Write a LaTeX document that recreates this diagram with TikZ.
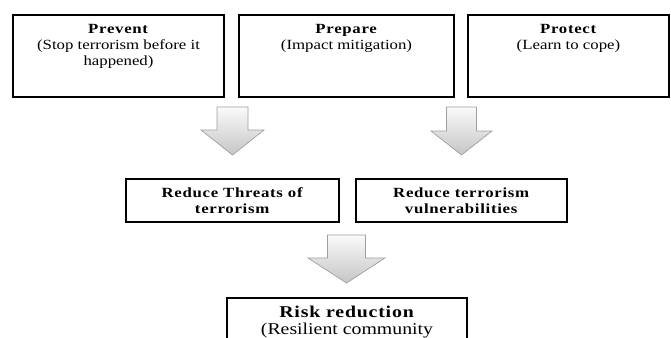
\documentclass[tikz,border=0pt]{standalone}
\usepackage{fontspec}
\setmainfont[FakeStretch=1.2,BoldFeatures={LetterSpace=5}]{Liberation Serif}
\usepackage{tikz}
\usetikzlibrary{calc,positioning}
\tikzset{
  caja/.style={draw=black,line width=2.4pt,inner sep=0pt},
  txt/.style={align=center,inner sep=0pt,font=\fontsize{14}{16}\selectfont},
  blockarr/.style={draw=gray!75,line width=0.7pt,top color=gray!4,bottom color=gray!45},
  pics/downarr/.style n args={4}{code={
    \draw[blockarr] (-#1,0) -- (#1,0) -- (#1,#3) -- (#2,#3) -- (0,#3+#4)
      -- (-#2,#3) -- (-#1,#3) -- cycle;
  }}
}
\begin{document}
\begin{tikzpicture}[x=1pt,y=-1pt]
\useasboundingbox (0,0) rectangle (671,337);
\clip (0,0) rectangle (671,337);
% top row
\node[caja,minimum width=211pt,minimum height=82pt] (prevent) at (118.5,56) {};
\node[caja,minimum width=215pt,minimum height=82pt] (prepare) at (346.5,56) {};
\node[caja,minimum width=201pt,minimum height=82pt] (protect) at (568.5,56) {};
\node[txt,anchor=north,below=10pt of prevent.north] (preventt) {\textbf{Prevent}\\(Stop terrorism before it\\happened)};
\node[txt,anchor=north,below=10pt of prepare.north] (preparet) {\textbf{Prepare}\\(Impact mitigation)};
\node[txt,anchor=north,below=10pt of protect.north] (protectt) {\textbf{Protect}\\(Learn to cope)};
% middle row
\node[caja,txt,line width=2.2pt,minimum width=213pt,minimum height=43pt] (threats) at (232.5,200.5)
  {\textbf{Reduce Threats of}\\\textbf{terrorism}};
\node[caja,txt,line width=2.2pt,minimum width=211pt,minimum height=43pt] (vulner) at (461.5,200.5)
  {\textbf{Reduce terrorism}\\\textbf{vulnerabilities}};
% bottom
\node[caja,minimum width=240pt,minimum height=80pt] (risk) at (347,338) {};
\node[txt,font=\fontsize{16.5}{17}\selectfont,anchor=north,below=9pt of risk.north] (riskt)
  {\textbf{Risk reduction}\\(Resilient community};
% arrows
\pic at (232.5,107) {downarr={15.5}{31.5}{23}{25}};
\pic at (461.5,107) {downarr={15}{30.5}{24}{24}};
\pic at (346.5,235) {downarr={19}{38.5}{23}{25}};
\end{tikzpicture}
\end{document}
